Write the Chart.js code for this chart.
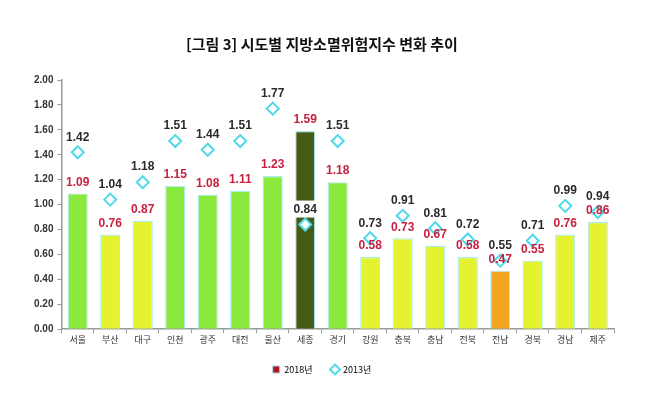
<!DOCTYPE html>
<html>
<head>
<meta charset="utf-8">
<script src="https://cdn.jsdelivr.net/npm/chart.js@4"></script>
<style>
  html, body { margin: 0; padding: 0; background: #fff; }
  #wrap { width: 648px; height: 396px; }
</style>
</head>
<body>
<div id="wrap"><canvas id="chart" width="648" height="396"></canvas></div>
<script>
const regions = ["서울", "부산", "대구", "인천", "광주", "대전", "울산", "세종", "경기", "강원", "충북", "충남", "전북", "전남", "경북", "경남", "제주"];
const index2018 = [1.09, 0.76, 0.87, 1.15, 1.08, 1.11, 1.23, 1.59, 1.18, 0.58, 0.73, 0.67, 0.58, 0.47, 0.55, 0.76, 0.86];
const index2013 = [1.42, 1.04, 1.18, 1.51, 1.44, 1.51, 1.77, 0.84, 1.51, 0.73, 0.91, 0.81, 0.72, 0.55, 0.71, 0.99, 0.94];
const yTicks = [0, 0.2, 0.4, 0.6, 0.8, 1.0, 1.2, 1.4, 1.6, 1.8, 2.0];

const numFont = "'Liberation Sans Narrow', 'Liberation Sans', sans-serif";
const krFont = "'Noto Sans CJK KR', sans-serif";

function barColor(v, i) {
  if (regions[i] === "세종") return "#465B16";
  if (v >= 1) return "#8BE83D";
  if (v >= 0.5) return "#E5F22F";
  return "#F2A61F";
}

// value labels drawn above bars and diamonds
const valueLabels = {
  id: "valueLabels",
  afterDatasetsDraw(chart) {
    const ctx = chart.ctx;
    const barMeta = chart.getDatasetMeta(0);
    const ptMeta = chart.getDatasetMeta(1);
    ctx.save();
    ctx.font = "bold 12px " + numFont;
    ctx.textAlign = "center";
    ctx.textBaseline = "middle";
    barMeta.data.forEach((bar, i) => {
      ctx.fillStyle = "#C8203F";
      ctx.fillText(index2018[i].toFixed(2), bar.x, bar.y - 11);
    });
    ptMeta.data.forEach((pt, i) => {
      const txt = index2013[i].toFixed(2);
      const y = pt.y - 15;
      if (regions[i] === "세종") {
        ctx.fillStyle = "#fff";
        ctx.fillRect(pt.x - 13, y - 9, 26, 17);
      }
      ctx.fillStyle = "#2b2b2b";
      ctx.fillText(txt, pt.x, y);
    });
    ctx.restore();
  }
};

new Chart(document.getElementById("chart"), {
  type: "bar",
  data: {
    labels: regions,
    datasets: [{
      label: "2018년",
      data: index2018,
      backgroundColor: index2018.map(barColor),
      borderColor: "#A6EEF0",
      borderWidth: 1.2,
      barPercentage: 0.62,
      categoryPercentage: 1,
      order: 2
    }, {
      type: "line",
      label: "2013년",
      data: index2013,
      showLine: false,
      pointStyle: "rectRot",
      pointRadius: 6,
      pointBorderWidth: 2,
      pointBackgroundColor: "#fff",
      pointBorderColor: "#4FD9EA",
      order: 1
    }]
  },
  options: {
    responsive: false,
    animation: false,
    layout: { padding: { left: 30, right: 34, top: 0, bottom: 12 } },
    plugins: {
      title: {
        display: true,
        text: "[그림 3] 시도별 지방소멸위험지수 변화 추이",
        color: "#111",
        font: { family: krFont, size: 15, weight: "bold" },
        padding: { top: 35, bottom: 27 }
      },
      legend: {
        position: "bottom",
        labels: {
          color: "#444",
          font: { family: krFont, size: 9 },
          boxWidth: 7,
          boxHeight: 7,
          padding: 19,
          usePointStyle: true,
          generateLabels() {
            return [{
              text: "2018년", fillStyle: "#B5141E", strokeStyle: "#9EDDE6",
              lineWidth: 1, pointStyle: "rect", datasetIndex: 0
            }, {
              text: "2013년", fillStyle: "#fff", strokeStyle: "#4FD9EA",
              lineWidth: 2, pointStyle: "rectRot", datasetIndex: 1
            }];
          }
        }
      },
      tooltip: { enabled: false }
    },
    scales: {
      x: {
        grid: { offset: true, drawOnChartArea: false, drawTicks: true, tickLength: 4, color: "#9a9a9a" },
        border: { color: "#9a9a9a", width: 1.5 },
        ticks: { color: "#333", font: { family: krFont, size: 9 }, padding: 1 }
      },
      y: {
        min: 0,
        max: 2,
        afterBuildTicks(axis) { axis.ticks = yTicks.map(v => ({ value: v })); },
        grid: { drawOnChartArea: false, drawTicks: true, tickLength: 4, color: "#9a9a9a" },
        border: { color: "#9a9a9a", width: 1.5 },
        ticks: {
          color: "#333",
          font: { family: numFont, size: 10, weight: "bold" },
          padding: 4,
          callback: v => Number(v).toFixed(2)
        }
      }
    }
  },
  plugins: [valueLabels]
});
</script>
</body>
</html>
